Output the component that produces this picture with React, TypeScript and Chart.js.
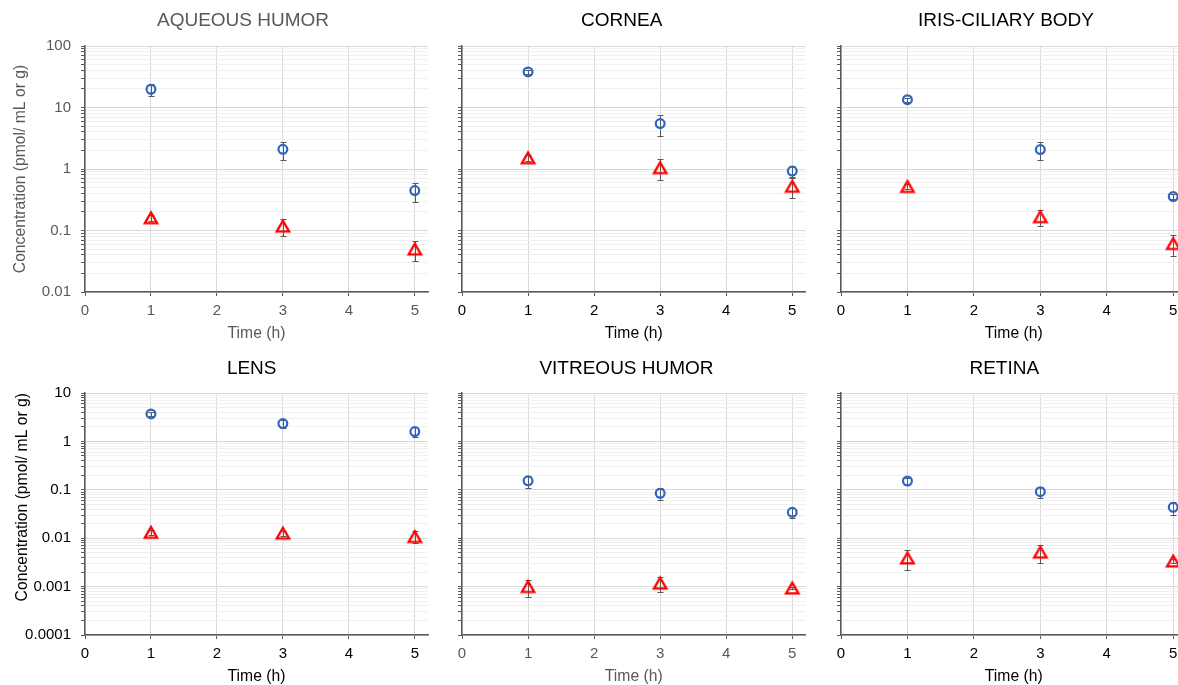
import React, { useEffect, useRef } from 'react';
import { Chart, registerables } from 'chart.js';

Chart.register(...registerables);

// ---------------- data ----------------
const TIMES = [1, 3, 5];
const X_TICKS = [0, 1, 2, 3, 4, 5];
const X_MIN = 0;
const X_MAX = 5.2;

const Y_DECADES_TOP = [0.01, 0.1, 1, 10, 100];
const Y_LABELS_TOP = ['0.01', '0.1', '1', '10', '100'];
const Y_DECADES_BOTTOM = [0.0001, 0.001, 0.01, 0.1, 1, 10];
const Y_LABELS_BOTTOM = ['0.0001', '0.001', '0.01', '0.1', '1', '10'];
const MINOR_MULTIPLIERS = [2, 3, 4, 5, 6, 7, 8, 9];

const AQUEOUS_CIRCLE = [19.8, 2.09, 0.446];
const AQUEOUS_CIRCLE_ERR = [4.4, 0.67, 0.155];
const AQUEOUS_TRIANGLE = [0.161, 0.118, 0.0498];
const AQUEOUS_TRIANGLE_ERR = [0.02, 0.037, 0.018];

const CORNEA_CIRCLE = [37.8, 5.47, 0.927];
const CORNEA_CIRCLE_ERR = [3.0, 2.0, 0.19];
const CORNEA_TRIANGLE = [1.52, 1.05, 0.523];
const CORNEA_TRIANGLE_ERR = [0.15, 0.39, 0.19];

const IRIS_CIRCLE = [13.4, 2.07, 0.356];
const IRIS_CIRCLE_ERR = [1.0, 0.68, 0.03];
const IRIS_TRIANGLE = [0.519, 0.167, 0.0612];
const IRIS_TRIANGLE_ERR = [0.05, 0.05, 0.022];

const LENS_CIRCLE = [3.69, 2.33, 1.6];
const LENS_CIRCLE_ERR = [0.35, 0.45, 0.35];
const LENS_TRIANGLE = [0.0132, 0.0127, 0.0108];
const LENS_TRIANGLE_ERR = [0.0015, 0.0015, 0.003];

const VITREOUS_CIRCLE = [0.153, 0.0849, 0.0342];
const VITREOUS_CIRCLE_ERR = [0.042, 0.024, 0.008];
const VITREOUS_TRIANGLE = [0.001, 0.00118, 0.000933];
const VITREOUS_TRIANGLE_ERR = [0.0004, 0.0004, 0.00005];

const RETINA_CIRCLE = [0.152, 0.0914, 0.0434];
const RETINA_CIRCLE_ERR = [0.02, 0.025, 0.013];
const RETINA_TRIANGLE = [0.0039, 0.00515, 0.00338];
const RETINA_TRIANGLE_ERR = [0.0017, 0.0021, 0.0003];

const Y_TITLE = 'Concentration (pmol/ mL or g)';
const X_TITLE = 'Time (h)';

// ---------------- styles / layout ----------------
const FONT = '"Liberation Sans", Arial, Helvetica, sans-serif';
const GREY = '#595959';
const BLACK = '#000000';
const BLUE = '#2B66C2';
const RED = '#FF0000';
const GRID_MAJOR = '#d9d9d9';
const GRID_MINOR = '#f0f0f0';

const ROWS = [
  { top: 0, height: 345, areaTop: 46, areaBottom: 292, titleY: 21, xTitlePad: 2.4, xTickPad: 5.7 },
  { top: 345, height: 345, areaTop: 48, areaBottom: 290, titleY: 23.5, xTitlePad: 4, xTickPad: 6.2 },
];
const COLS = [
  { left: 0, width: 440, areaLeft: 85, areaRight: 428 },
  { left: 440, width: 385, areaLeft: 22, areaRight: 365.5 },
  { left: 810, width: 400, areaLeft: 31, areaRight: 376.5 },
];

type PanelSpec = {
  title: string;
  row: number;
  col: number;
  titleX: number;
  circle: number[];
  circleErr: number[];
  triangle: number[];
  triangleErr: number[];
  decades: number[];
  labels: string[];
  showY: boolean;
  yTitleAlign: 'center' | 'end';
  yTitlePad: number;
  titleColor: string;
  yColor: string;
  xColor: string;
};

const PANELS: PanelSpec[] = [
  {
    title: 'AQUEOUS HUMOR', row: 0, col: 0, titleX: 243,
    circle: AQUEOUS_CIRCLE, circleErr: AQUEOUS_CIRCLE_ERR, triangle: AQUEOUS_TRIANGLE, triangleErr: AQUEOUS_TRIANGLE_ERR,
    decades: Y_DECADES_TOP, labels: Y_LABELS_TOP, showY: true, yTitleAlign: 'center', yTitlePad: 11.2,
    titleColor: GREY, yColor: GREY, xColor: GREY,
  },
  {
    title: 'CORNEA', row: 0, col: 1, titleX: 181.7,
    circle: CORNEA_CIRCLE, circleErr: CORNEA_CIRCLE_ERR, triangle: CORNEA_TRIANGLE, triangleErr: CORNEA_TRIANGLE_ERR,
    decades: Y_DECADES_TOP, labels: Y_LABELS_TOP, showY: false, yTitleAlign: 'center', yTitlePad: 0,
    titleColor: BLACK, yColor: BLACK, xColor: BLACK,
  },
  {
    title: 'IRIS-CILIARY BODY', row: 0, col: 2, titleX: 196,
    circle: IRIS_CIRCLE, circleErr: IRIS_CIRCLE_ERR, triangle: IRIS_TRIANGLE, triangleErr: IRIS_TRIANGLE_ERR,
    decades: Y_DECADES_TOP, labels: Y_LABELS_TOP, showY: false, yTitleAlign: 'center', yTitlePad: 0,
    titleColor: BLACK, yColor: BLACK, xColor: BLACK,
  },
  {
    title: 'LENS', row: 1, col: 0, titleX: 251.7,
    circle: LENS_CIRCLE, circleErr: LENS_CIRCLE_ERR, triangle: LENS_TRIANGLE, triangleErr: LENS_TRIANGLE_ERR,
    decades: Y_DECADES_BOTTOM, labels: Y_LABELS_BOTTOM, showY: true, yTitleAlign: 'end', yTitlePad: 13.5,
    titleColor: BLACK, yColor: BLACK, xColor: BLACK,
  },
  {
    title: 'VITREOUS HUMOR', row: 1, col: 1, titleX: 186.5,
    circle: VITREOUS_CIRCLE, circleErr: VITREOUS_CIRCLE_ERR, triangle: VITREOUS_TRIANGLE, triangleErr: VITREOUS_TRIANGLE_ERR,
    decades: Y_DECADES_BOTTOM, labels: Y_LABELS_BOTTOM, showY: false, yTitleAlign: 'center', yTitlePad: 0,
    titleColor: BLACK, yColor: BLACK, xColor: GREY,
  },
  {
    title: 'RETINA', row: 1, col: 2, titleX: 194.3,
    circle: RETINA_CIRCLE, circleErr: RETINA_CIRCLE_ERR, triangle: RETINA_TRIANGLE, triangleErr: RETINA_TRIANGLE_ERR,
    decades: Y_DECADES_BOTTOM, labels: Y_LABELS_BOTTOM, showY: false, yTitleAlign: 'center', yTitlePad: 0,
    titleColor: BLACK, yColor: BLACK, xColor: BLACK,
  },
];

// ---------------- helpers ----------------
const isDecade = (v: number) => {
  const l = Math.log10(v);
  return Math.abs(l - Math.round(l)) < 1e-6;
};

function buildLogTicks(decades: number[]): number[] {
  const out: number[] = [];
  for (let i = 0; i < decades.length - 1; i++) {
    out.push(decades[i]);
    for (const m of MINOR_MULTIPLIERS) out.push(Number((m * decades[i]).toPrecision(6)));
  }
  out.push(decades[decades.length - 1]);
  return out;
}

function makeTriangle(color: string): HTMLCanvasElement {
  const c = document.createElement('canvas');
  c.width = 18;
  c.height = 18;
  const g = c.getContext('2d')!;
  g.strokeStyle = color;
  g.lineWidth = 2.3;
  g.lineJoin = 'miter';
  g.beginPath();
  g.moveTo(9, 3.6);
  g.lineTo(15.2, 14.4);
  g.lineTo(2.8, 14.4);
  g.closePath();
  g.stroke();
  return c;
}

const errorBarPlugin = {
  id: 'errorBars',
  beforeDatasetsDraw(chart: any) {
    const ctx = chart.ctx;
    const ys = chart.scales.y;
    ctx.save();
    ctx.strokeStyle = GREY;
    ctx.lineWidth = 1;
    chart.data.datasets.forEach((ds: any, di: number) => {
      const meta = chart.getDatasetMeta(di);
      (ds.errors || []).forEach((e: number, i: number) => {
        const pt = meta.data[i];
        if (!pt) return;
        const v = ds.data[i].y;
        const x = Math.round(pt.x) + 0.5;
        const yTop = Math.round(ys.getPixelForValue(v + e)) + 0.5;
        const yBot = Math.round(ys.getPixelForValue(Math.max(v - e, 1e-12))) + 0.5;
        ctx.beginPath();
        ctx.moveTo(x, yTop);
        ctx.lineTo(x, yBot);
        ctx.moveTo(x - 3, yTop);
        ctx.lineTo(x + 3, yTop);
        ctx.moveTo(x - 3, yBot);
        ctx.lineTo(x + 3, yBot);
        ctx.stroke();
      });
    });
    ctx.restore();
  },
};

const panelTitlePlugin = {
  id: 'panelTitle',
  afterDraw(chart: any, _args: any, opts: any) {
    const ctx = chart.ctx;
    ctx.save();
    ctx.font = `${opts.size}px ${FONT}`;
    ctx.fillStyle = opts.color;
    ctx.textAlign = 'center';
    ctx.textBaseline = 'middle';
    ctx.fillText(opts.text, opts.x, opts.y);
    ctx.restore();
  },
};

function Panel({ spec }: { spec: PanelSpec }) {
  const ref = useRef<HTMLCanvasElement>(null);
  const row = ROWS[spec.row];
  const col = COLS[spec.col];

  useEffect(() => {
    if (!ref.current) return;
    const yTicks = buildLogTicks(spec.decades);
    const tri = makeTriangle(RED);
    const chart = new Chart(ref.current, {
      type: 'scatter',
      data: {
        datasets: [
          {
            label: 'Circle series',
            data: TIMES.map((t, i) => ({ x: t, y: spec.circle[i] })),
            errors: spec.circleErr,
            pointStyle: 'circle',
            pointRadius: 4.4,
            pointHoverRadius: 4.4,
            borderWidth: 2.2,
            pointBorderWidth: 2.2,
            pointBorderColor: BLUE,
            borderColor: BLUE,
            pointBackgroundColor: 'rgba(0,0,0,0)',
            backgroundColor: 'rgba(0,0,0,0)',
            showLine: false,
            clip: false,
          } as any,
          {
            label: 'Triangle series',
            data: TIMES.map((t, i) => ({ x: t, y: spec.triangle[i] })),
            errors: spec.triangleErr,
            pointStyle: tri,
            pointRadius: 8,
            pointHoverRadius: 8,
            borderColor: RED,
            backgroundColor: 'rgba(0,0,0,0)',
            showLine: false,
            clip: false,
          } as any,
        ],
      },
      options: {
        animation: false,
        responsive: false,
        events: [],
        layout: {
          padding: {
            left: 0,
            top: row.areaTop,
            right: col.width - col.areaRight,
            bottom: 0,
          },
        },
        plugins: {
          legend: { display: false },
          tooltip: { enabled: false },
          title: { display: false },
          panelTitle: { text: spec.title, x: spec.titleX, y: row.titleY, size: 19, color: spec.titleColor },
        } as any,
        scales: {
          x: {
            type: 'linear',
            min: X_MIN,
            max: X_MAX,
            afterFit: (s: any) => {
              s.height = row.height - row.areaBottom;
            },
            afterBuildTicks: (s: any) => {
              s.ticks = X_TICKS.map((v) => ({ value: v }));
            },
            ticks: {
              autoSkip: false,
              maxRotation: 0,
              padding: row.xTickPad,
              color: spec.xColor,
              font: { family: FONT, size: 15 },
              callback: (v: any) => String(v),
            },
            grid: { color: GRID_MAJOR, tickColor: GREY, tickLength: 4, lineWidth: 1 },
            border: { color: GREY, width: 1.5 },
            title: {
              display: true,
              text: X_TITLE,
              color: spec.xColor,
              font: { family: FONT, size: 15.7 },
              padding: { top: 0, bottom: row.xTitlePad },
            },
          },
          y: {
            type: 'logarithmic',
            min: spec.decades[0],
            max: spec.decades[spec.decades.length - 1],
            afterFit: (s: any) => {
              s.width = col.areaLeft;
            },
            afterBuildTicks: (s: any) => {
              s.ticks = yTicks.map((v) => ({ value: v }));
            },
            ticks: {
              autoSkip: false,
              padding: 10,
              color: spec.yColor,
              font: { family: FONT, size: 15 },
              callback: (v: any) => {
                if (!spec.showY) return '';
                const i = spec.decades.findIndex((d) => Math.abs(d - v) / d < 1e-6);
                return i >= 0 ? spec.labels[i] : '';
              },
            },
            grid: {
              color: (c: any) => (c.tick && isDecade(c.tick.value) ? GRID_MAJOR : GRID_MINOR),
              tickColor: GREY,
              tickLength: 4,
              lineWidth: 1,
            },
            border: { color: GREY, width: 1.5 },
            title: {
              display: spec.showY,
              text: Y_TITLE,
              align: spec.yTitleAlign,
              color: spec.yColor,
              font: { family: FONT, size: 15.7 },
              padding: { top: spec.yTitlePad, bottom: 0 },
            },
          },
        },
      } as any,
      plugins: [errorBarPlugin, panelTitlePlugin] as any,
    });
    return () => chart.destroy();
  }, []);

  return (
    <canvas
      ref={ref}
      width={col.width}
      height={row.height}
      style={{ position: 'absolute', left: col.left, top: row.top, width: col.width, height: row.height }}
    />
  );
}

export default function App() {
  return (
    <div
      style={{
        position: 'fixed',
        left: 0,
        top: 0,
        width: 1178,
        height: 685,
        overflow: 'hidden',
        background: '#ffffff',
      }}
    >
      {PANELS.map((p) => (
        <Panel key={p.title} spec={p} />
      ))}
    </div>
  );
}
